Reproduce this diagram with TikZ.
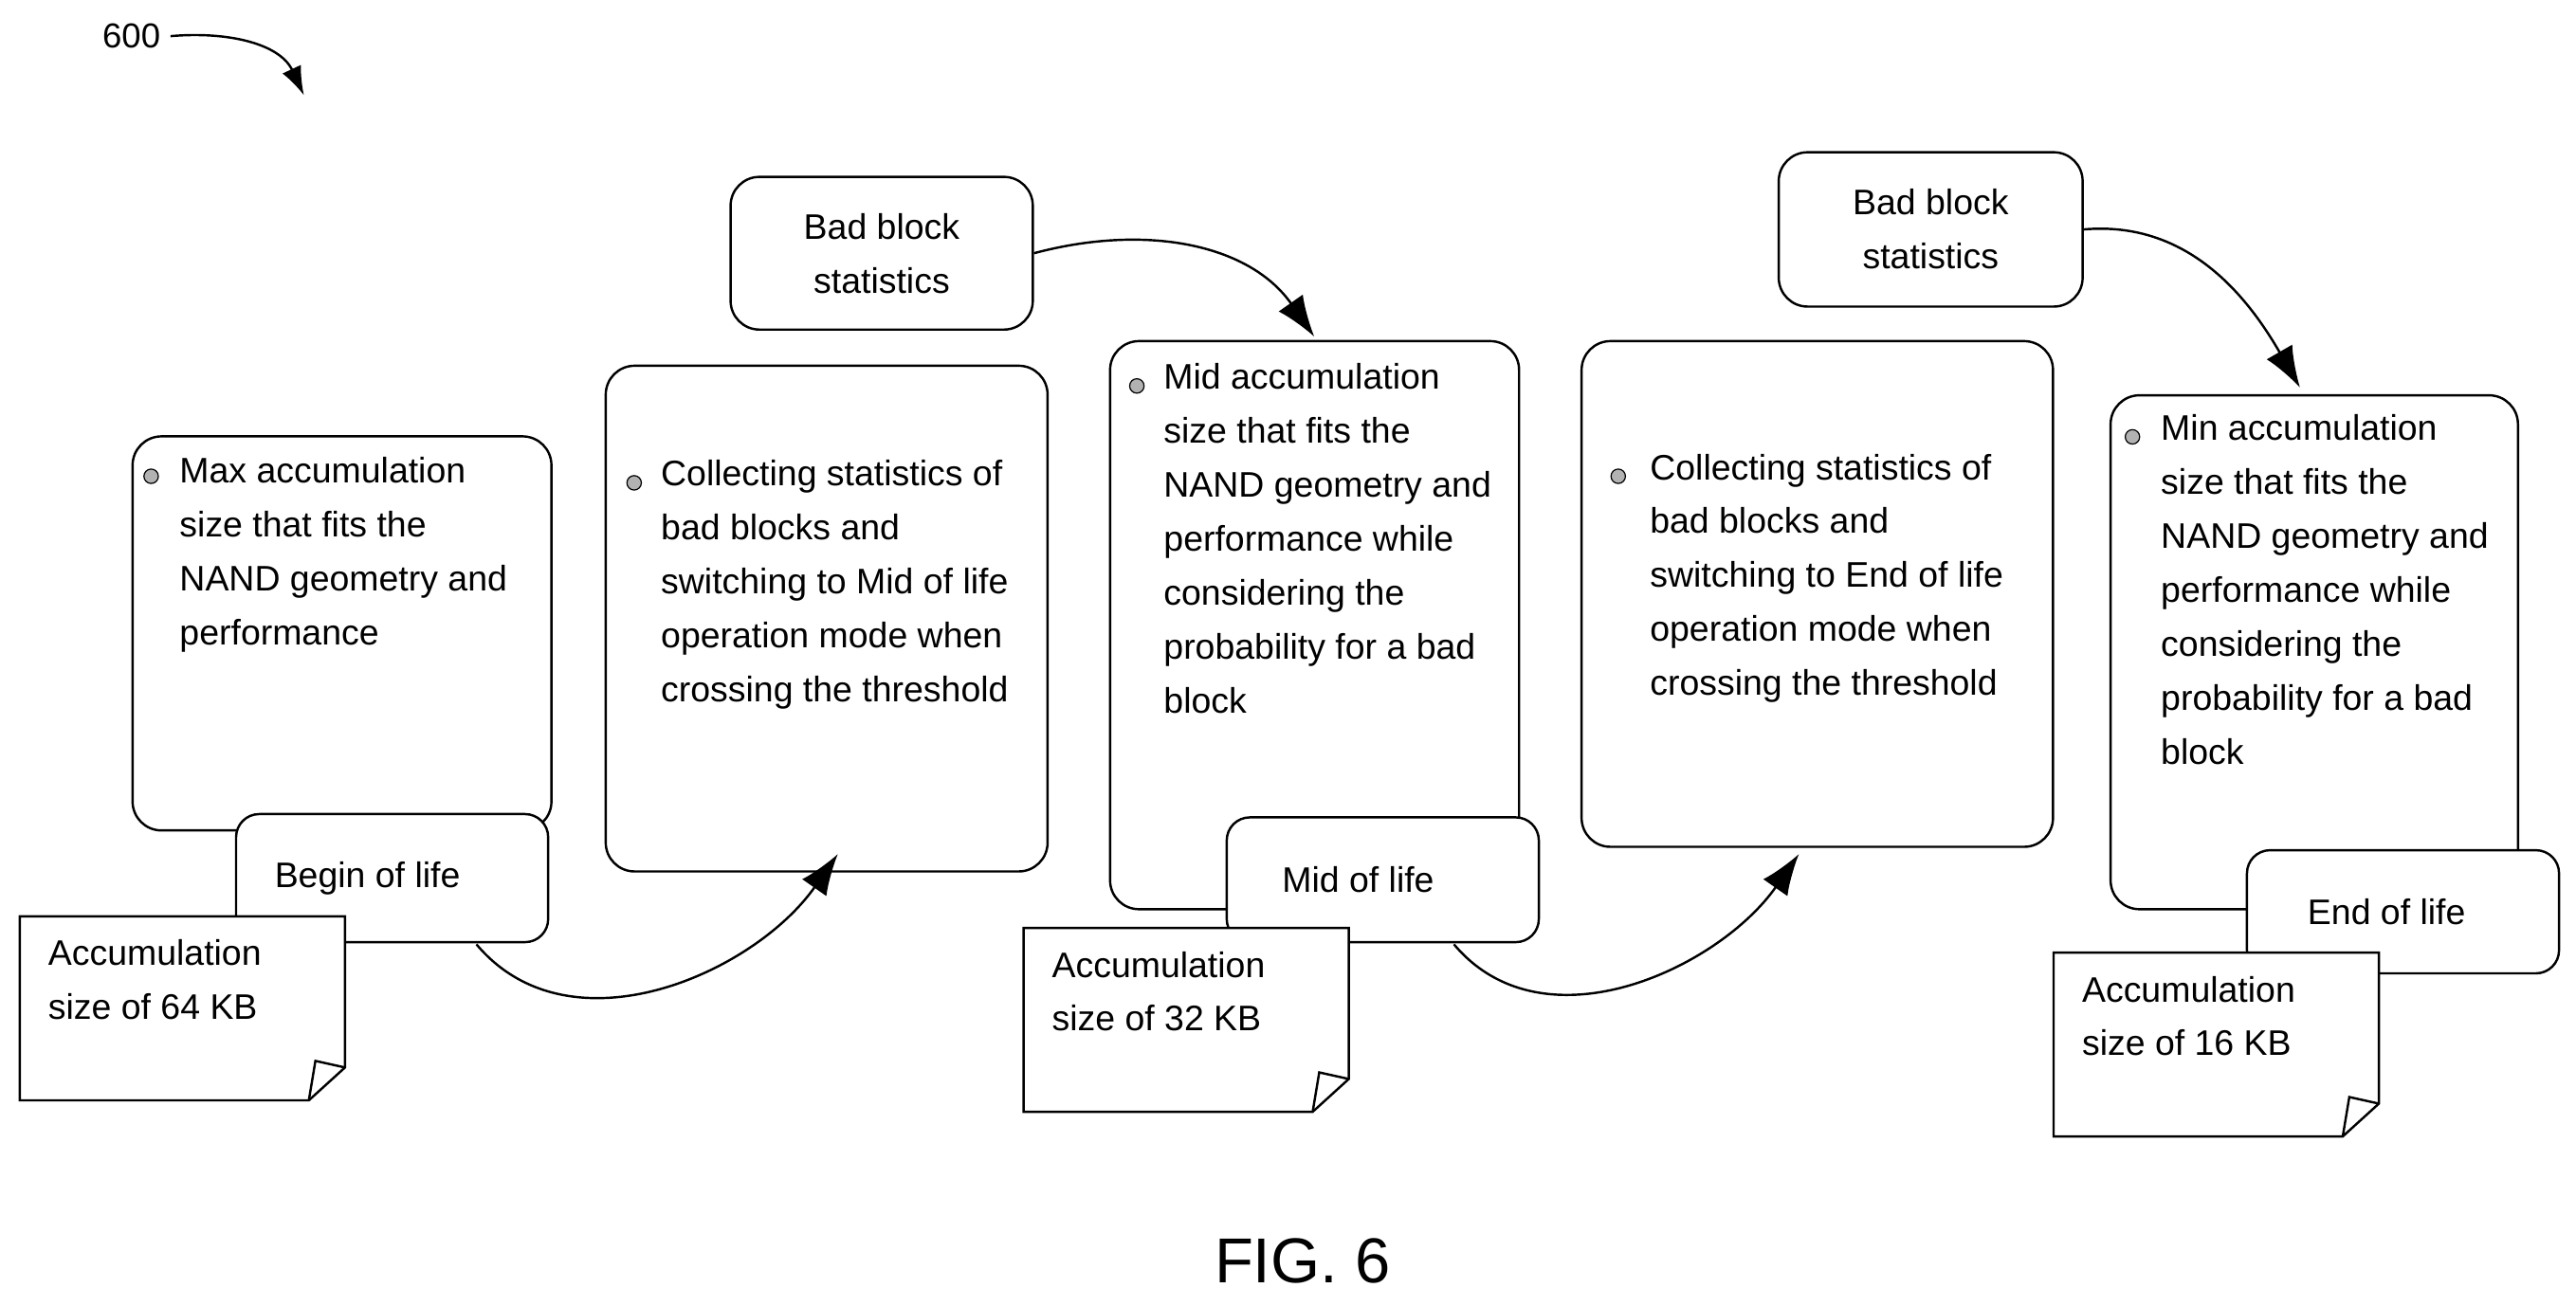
\documentclass[tikz,border=0pt]{standalone}
\usepackage{fontspec}
\setmainfont{Liberation Sans}
\usetikzlibrary{arrows.meta, positioning, calc}

\begin{document}
\begin{tikzpicture}[
    x = 0.02cm, y = -0.02cm, > = {Latex[length=0.5cm, width=0.36cm]},
    box/.style = {
      draw, thick, rounded corners = 10pt, fill = white, anchor = north west
    },
    life/.style = {
      draw, thick, rounded corners = 8pt, fill = white, anchor = north west,
      font = \fontsize{12.3}{18.7}\selectfont
    },
    txt/.style = {
      anchor = north west, align = left, inner sep = 0pt,
      font = \fontsize{12.3}{18.7}\selectfont
    },
    dot/.style = {
      circle, draw, fill = gray!60, inner sep = 0pt, minimum size = 5pt
    },
    note/.style = {
      anchor = north west, align = left, inner sep = 0pt,
      font = \fontsize{12.3}{18.7}\selectfont
    },
    flow/.style = {->, thick}
    ]
    \useasboundingbox (0,0) rectangle (1568,795);

    % figure number
    \node (num) at (80,22) {\fontsize{12}{14}\selectfont 600};
    \coordinate (numend) at (185,58);
    \draw [thick, -{Latex[length=0.35cm, width=0.25cm]}] (num.east) to[out=5, in=115] (numend);

    % main boxes
    \node [box, minimum width = 5.1cm, minimum height = 4.8cm] (maxbox) at (80,265) {};
    \node [box, minimum width = 5.38cm, minimum height = 6.16cm] (collect1) at (368,222) {};
    \node [box, minimum width = 4.98cm, minimum height = 6.92cm] (midbox) at (675,207) {};
    \node [box, minimum width = 5.74cm, minimum height = 6.16cm] (collect2) at (962,207) {};
    \node [box, minimum width = 4.96cm, minimum height = 6.26cm] (minbox) at (1284,240) {};

    % bad block statistics
    \node [box, minimum width = 3.68cm, minimum height = 1.86cm,
      align = center, font = \fontsize{12.3}{18.7}\selectfont] (bad1) at (444,107)
      {Bad block\\statistics};
    \node [box, minimum width = 3.7cm, minimum height = 1.88cm,
      align = center, font = \fontsize{12.3}{18.7}\selectfont] (bad2) at (1082,92)
      {Bad block\\statistics};

    % box texts
    \node [dot] at (92,290) {};
    \node [txt] at (109,278) {Max accumulation\\size that fits the\\NAND geometry and\\performance};
    \node [dot] at (386,294) {};
    \node [txt] at (402,280) {Collecting statistics of\\bad blocks and\\switching to Mid of life\\operation mode when\\crossing the threshold};
    \node [dot] at (692,235) {};
    \node [txt] at (708,221) {Mid accumulation\\size that fits the\\NAND geometry and\\performance while\\considering the\\probability for a bad\\block};
    \node [dot] at (985,290) {};
    \node [txt] at (1004,276) {Collecting statistics of\\bad blocks and\\switching to End of life\\operation mode when\\crossing the threshold};
    \node [dot] at (1298,266) {};
    \node [txt] at (1315,252) {Min accumulation\\size that fits the\\NAND geometry and\\performance while\\considering the\\probability for a bad\\block};

    % life stages
    \node [life, minimum width = 3.8cm, minimum height = 1.56cm] (begin) at (143,495) {\hspace*{-0.6cm}Begin of life};
    \node [life, minimum width = 3.8cm, minimum height = 1.52cm] (mid) at (746,497) {\hspace*{-0.6cm}Mid of life};
    \node [life, minimum width = 3.8cm, minimum height = 1.5cm] (end) at (1367,517) {\hspace*{-0.4cm}End of life};

    % notes
    \foreach \n/\x/\y/\s in {n1/12/558/64, n2/623/565/32, n3/1250/580/16} {
      \coordinate (\n) at (\x,\y);
      \draw [thick, fill = white] (\n) -- ++(198,0) -- ++(0,92) -- ++(-22,20)
        -- ++(-176,0) -- cycle;
      \draw [thick] ($(\n)+(198,92)$) -- ++(-18,-4) -- ++(-4,24);
      \node [note] at ($(\n)+(17,14)$) {Accumulation\\size of \s\ KB};
    }

    % flow arrows
    \coordinate (a1s) at (290,575);
    \coordinate (a1e) at (510,520);
    \draw [flow] (a1s) to[out=-50, in=-125] (a1e);
    \coordinate (a2s) at (885,575);
    \coordinate (a2e) at (1095,520);
    \draw [flow] (a2s) to[out=-50, in=-125] (a2e);
    \coordinate (b1e) at (800,205);
    \draw [flow] (bad1.east) to[out=15, in=125] (b1e);
    \coordinate (b2e) at (1400,236);
    \draw [flow] (bad2.east) to[out=5, in=120] (b2e);

    \node (fig) at (793,768) {\fontsize{22}{26}\selectfont FIG. 6};
\end{tikzpicture}
\end{document}
